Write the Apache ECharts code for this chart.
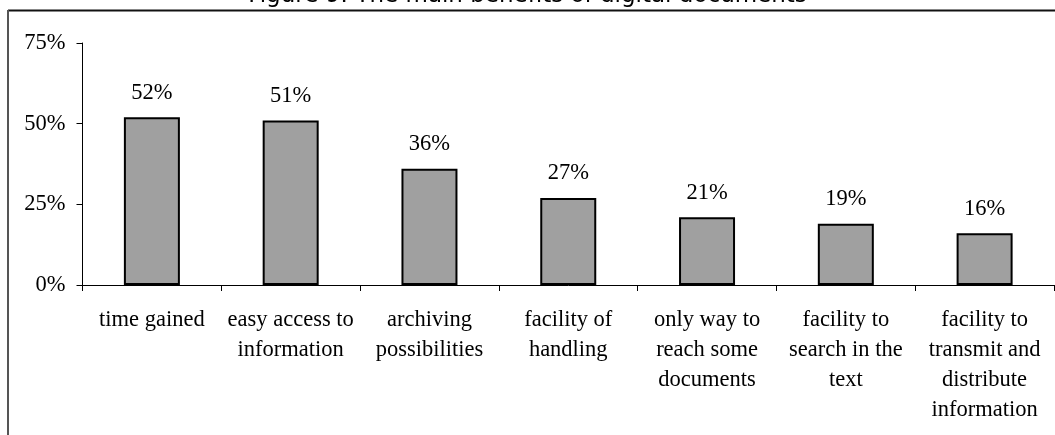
<!DOCTYPE html>
<html>
<head>
<meta charset="utf-8">
<style>
  html, body { margin: 0; padding: 0; background: #fff; }
  #chart { width: 1055px; height: 435px; }
</style>
<script src="https://cdn.jsdelivr.net/npm/echarts@6/dist/echarts.min.js"></script>
</head>
<body>
<div id="chart"></div>
<script>
// Benefits of digital documents, share of respondents (%)
const titleText = 'Figure 9: The main benefits of digital documents';
const categories = [
  'time gained',
  'easy access to\ninformation',
  'archiving\npossibilities',
  'facility of\nhandling',
  'only way to\nreach some\ndocuments',
  'facility to\nsearch in the\ntext',
  'facility to\ntransmit and\ndistribute\ninformation'
];
const shares = [52, 51, 36, 27, 21, 19, 16];
const yTicks = [0, 25, 50, 75];

const serif = '"Liberation Serif", "Times New Roman", serif';

const chart = echarts.init(document.getElementById('chart'), null, { renderer: 'canvas' });

chart.setOption({
  backgroundColor: '#ffffff',
  animation: false,
  graphic: [
    {
      type: 'text',
      x: 527.5,
      y: 8,
      style: {
        text: titleText,
        font: '23px "DejaVu Sans", Verdana, sans-serif',
        fill: '#000',
        textAlign: 'center',
        textVerticalAlign: 'bottom'
      }
    },
    {
      type: 'line',
      shape: { x1: 8, y1: 10.5, x2: 1060, y2: 10.5 },
      style: { stroke: '#111', lineWidth: 2 }
    },
    {
      type: 'line',
      shape: { x1: 8, y1: 10, x2: 8, y2: 440 },
      style: { stroke: '#555', lineWidth: 2 }
    }
  ],
  grid: { left: 82.5, right: 1, top: 43, bottom: 150, containLabel: false },
  xAxis: {
    type: 'category',
    data: categories,
    boundaryGap: true,
    axisLine: { show: true, lineStyle: { color: '#000', width: 1 } },
    axisTick: { show: true, alignWithLabel: false, length: 6, lineStyle: { color: '#000' } },
    axisLabel: {
      interval: 0,
      margin: 20,
      fontFamily: serif,
      fontSize: 22.5,
      lineHeight: 30,
      color: '#000',
      align: 'center'
    },
    splitLine: { show: false }
  },
  yAxis: {
    type: 'value',
    min: yTicks[0],
    max: yTicks[yTicks.length - 1],
    interval: yTicks[1] - yTicks[0],
    axisLine: { show: true, lineStyle: { color: '#000', width: 1 } },
    axisTick: { show: true, length: 6, lineStyle: { color: '#000' } },
    axisLabel: {
      margin: 17,
      formatter: '{value}%',
      fontFamily: serif,
      fontSize: 22.5,
      color: '#000'
    },
    splitLine: { show: false }
  },
  series: [
    {
      type: 'bar',
      data: shares,
      barWidth: 56,
      itemStyle: { color: '#a0a0a0', borderColor: '#000', borderWidth: 2 },
      label: {
        show: true,
        position: 'top',
        distance: 13,
        formatter: '{c}%',
        fontFamily: serif,
        fontSize: 22.5,
        color: '#000'
      }
    }
  ]
});
</script>
</body>
</html>
